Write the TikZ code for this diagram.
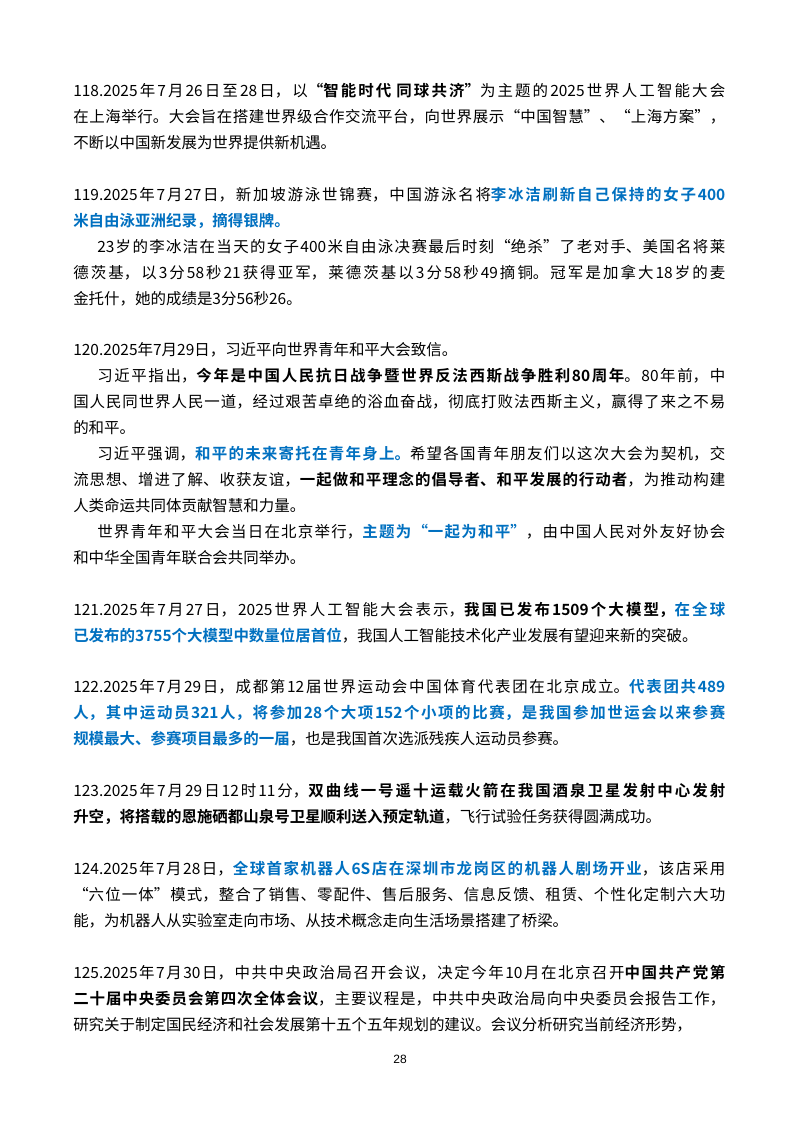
\documentclass[tikz,border=0pt]{standalone}
\usepackage{fontspec}
\setmainfont{Noto Sans CJK SC}[BoldFont=* Bold]
\newfontfamily\pnum{Liberation Sans}
\definecolor{hblue}{RGB}{0,112,192}
\newcommand{\bk}[1]{\textbf{#1}}
\newcommand{\bl}[1]{\textcolor{hblue}{\textbf{#1}}}
\newcommand{\ind}{\hspace*{18pt}}
\begin{document}
\XeTeXlinebreaklocale "zh"
\XeTeXlinebreakskip=0pt plus 2pt
\sloppy
\begin{tikzpicture}[x=0.75pt,y=-0.75pt,
  para/.style={anchor=base west, inner sep=0pt, text width=489pt, align=justify,
    font=\fontsize{11.6}{19.5}\selectfont}]
\useasboundingbox[fill=white] (0,0) rectangle (800,1132);
\node[para] (p118) at (73,96) {118.2025年7月26日至28日，以\bk{“智能时代 同球共济”}为主题的2025世界人工智能大会\linebreak 在上海举行。大会旨在搭建世界级合作交流平台，向世界展示“中国智慧”、“上海方案”，\linebreak 不断以中国新发展为世界提供新机遇。};
\node[para] (p119) at (73,200) {119.2025年7月27日，新加坡游泳世锦赛，中国游泳名将\bl{李冰洁刷新自己保持的女子400\linebreak 米自由泳亚洲纪录，摘得银牌。}};
\node[para] (p119b) at (73,252) {\ind 23岁的李冰洁在当天的女子400米自由泳决赛最后时刻“绝杀”了老对手、美国名将莱\linebreak 德茨基，以3分58秒21获得亚军，莱德茨基以3分58秒49摘铜。冠军是加拿大18岁的麦\linebreak 金托什，她的成绩是3分56秒26。};
\node[para] (p120) at (73,355) {120.2025年7月29日，习近平向世界青年和平大会致信。};
\node[para] (p120b) at (73,381) {\ind 习近平指出，\bk{今年是中国人民抗日战争暨世界反法西斯战争胜利80周年}。80年前，中\linebreak 国人民同世界人民一道，经过艰苦卓绝的浴血奋战，彻底打败法西斯主义，赢得了来之不易\linebreak 的和平。};
\node[para] (p120c) at (73,459) {\ind 习近平强调，\bl{和平的未来寄托在青年身上。}希望各国青年朋友们以这次大会为契机，交\linebreak 流思想、增进了解、收获友谊，\bk{一起做和平理念的倡导者、和平发展的行动者}，为推动构建\linebreak 人类命运共同体贡献智慧和力量。};
\node[para] (p120d) at (73,537) {\ind 世界青年和平大会当日在北京举行，\bl{主题为“一起为和平”}，由中国人民对外友好协会\linebreak 和中华全国青年联合会共同举办。};
\node[para] (p121) at (73,615) {121.2025年7月27日，2025世界人工智能大会表示，\bk{我国已发布1509个大模型，}\bl{在全球\linebreak 已发布的3755个大模型中数量位居首位}，我国人工智能技术化产业发展有望迎来新的突破。};
\node[para] (p122) at (73,692) {122.2025年7月29日，成都第12届世界运动会中国体育代表团在北京成立。\bl{代表团共489\linebreak 人，其中运动员321人，将参加28个大项152个小项的比赛，是我国参加世运会以来参赛\linebreak 规模最大、参赛项目最多的一届}，也是我国首次选派残疾人运动员参赛。};
\node[para] (p123) at (73,796) {123.2025年7月29日12时11分，\bk{双曲线一号遥十运载火箭在我国酒泉卫星发射中心发射\linebreak 升空，将搭载的恩施硒都山泉号卫星顺利送入预定轨道}，飞行试验任务获得圆满成功。};
\node[para] (p124) at (73,874) {124.2025年7月28日，\bl{全球首家机器人6S店在深圳市龙岗区的机器人剧场开业}，该店采用\linebreak “六位一体”模式，整合了销售、零配件、售后服务、信息反馈、租赁、个性化定制六大功\linebreak 能，为机器人从实验室走向市场、从技术概念走向生活场景搭建了桥梁。};
\node[para] (p125) at (73,978) {125.2025年7月30日，中共中央政治局召开会议，决定今年10月在北京召开\bk{中国共产党第\linebreak 二十届中央委员会第四次全体会议}，主要议程是，中共中央政治局向中央委员会报告工作，\linebreak 研究关于制定国民经济和社会发展第十五个五年规划的建议。会议分析研究当前经济形势，};
\node[font=\pnum\fontsize{9}{10}\selectfont, inner sep=0pt] (pn) at (400,1059) {28};
\end{tikzpicture}
\end{document}
